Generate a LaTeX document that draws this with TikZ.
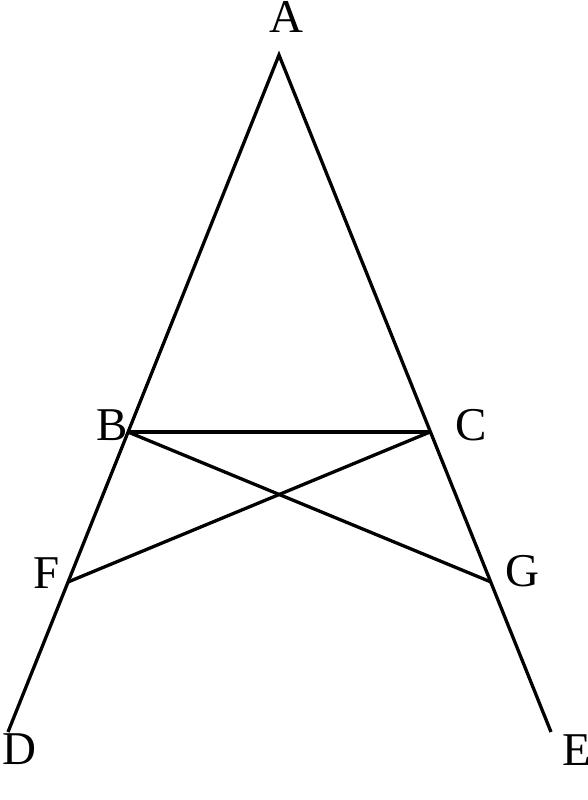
\documentclass[tikz,border=0pt]{standalone}
\usepackage{fontspec}
\setmainfont{Liberation Serif}
\begin{document}
\begin{tikzpicture}[x=1pt,y=-1pt,
  seg/.style={line width=3.3pt,line cap=butt,line join=miter},
  lbl/.style={inner sep=0pt,font=\fontsize{47}{56}\selectfont}]
\useasboundingbox (0,0) rectangle (587,800);
\coordinate (A) at (279,55);
\coordinate (B) at (128,432);
\coordinate (C) at (430,432);
\coordinate (F) at (68,582);
\coordinate (G) at (491,582);
\coordinate (D) at (8,732);
\coordinate (E) at (551,732);
\draw[seg] (D) -- (A) -- (E);
\draw[seg] (B) -- (C);
\draw[seg] (B) -- (G);
\draw[seg] (C) -- (F);
\node[lbl] (lA) at (286,17) {A};
\node[lbl] (lB) at (112,425) {B};
\node[lbl] (lC) at (471,425) {C};
\node[lbl] (lF) at (47,573) {F};
\node[lbl] (lG) at (522,571) {G};
\node[lbl] (lD) at (19,749) {D};
\node[lbl] (lE) at (577,750) {E};
\end{tikzpicture}
\end{document}
